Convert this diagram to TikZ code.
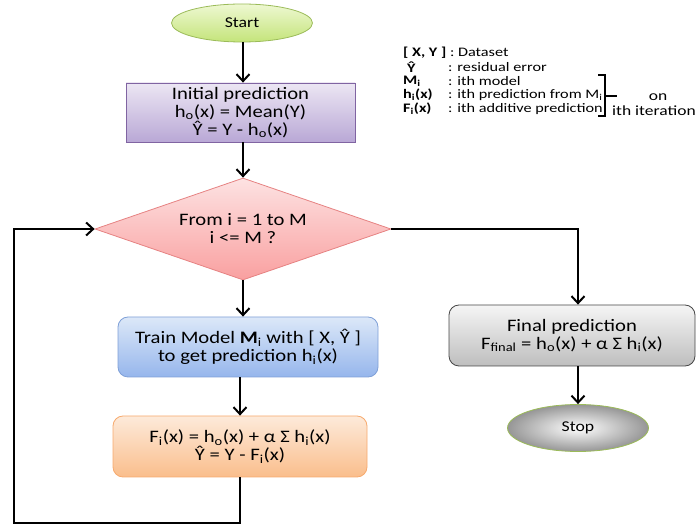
\documentclass[tikz,border=0pt]{standalone}
\usepackage{fontspec}
\setmainfont{Carlito}
\newfontfamily\boxfont[FakeStretch=1.18]{Carlito}
\newfontfamily\legfont[FakeStretch=1.25]{Carlito}
\usetikzlibrary{shapes.geometric,arrows.meta,calc}
\tikzset{
  base/.style={draw, inner sep=0pt, align=center, font=\boxfont\fontsize{17.5}{18}\selectfont, line width=0.8pt},
  termnode/.style={base, ellipse, font=\boxfont\fontsize{15}{18}\selectfont},
  procbox/.style={base, rectangle},
  roundbox/.style={base, rectangle, rounded corners=10pt},
  decbox/.style={base, diamond},
  arr/.style={line width=2.4pt, -{Straight Barb[length=7pt,width=13pt,line width=2pt]}},
  leg/.style={anchor=west, inner sep=0pt, font=\legfont\fontsize{13}{12}\selectfont},
}
\begin{document}
\begin{tikzpicture}[x=1pt,y=-1pt]
\useasboundingbox (0,0) rectangle (697,526);
% nodes
\node[termnode, minimum width=141pt, minimum height=38pt, top color={rgb,255:red,238;green,248;blue,210}, bottom color={rgb,255:red,196;green,228;blue,122}, draw={rgb,255:red,155;green,187;blue,89}] (start) at (242,23) {Start};
\node[procbox, minimum width=229pt, minimum height=59pt, top color={rgb,255:red,236;green,230;blue,243}, bottom color={rgb,255:red,185;green,168;blue,214}, draw={rgb,255:red,128;green,100;blue,162}] (init) at (240.5,112.5) {Initial prediction\\h\textsubscript{o}(x) = Mean(Y)\\Ŷ = Y - h\textsubscript{o}(x)};
\node[decbox, aspect=2.9, minimum width=296pt, minimum height=102pt, top color={rgb,255:red,253;green,226;blue,226}, bottom color={rgb,255:red,249;green,160;blue,160}, draw={rgb,255:red,230;green,130;blue,130}] (dec) at (243,229) {From i = 1 to M\\i <= M ?};
\node[roundbox, minimum width=260pt, minimum height=60pt, top color={rgb,255:red,220;green,232;blue,248}, bottom color={rgb,255:red,150;green,182;blue,236}, draw={rgb,255:red,127;green,160;blue,215}] (train) at (248,347) {Train Model \textbf{M}\textsubscript{i} with [ X, Ŷ ]\\to get prediction h\textsubscript{i}(x)};
\node[roundbox, minimum width=254pt, minimum height=61pt, top color={rgb,255:red,253;green,234;blue,218}, bottom color={rgb,255:red,250;green,190;blue,140}, draw={rgb,255:red,247;green,170;blue,110}] (upd) at (240,446.5) {F\textsubscript{i}(x) = h\textsubscript{o}(x) + α Σ h\textsubscript{i}(x)\\Ŷ = Y - F\textsubscript{i}(x)};
\node[roundbox, minimum width=246pt, minimum height=61pt, top color={rgb,255:red,245;green,245;blue,245}, bottom color={rgb,255:red,190;green,190;blue,190}, draw={rgb,255:red,70;green,70;blue,70}] (final) at (572,335.5) {Final prediction\\F\textsubscript{final} = h\textsubscript{o}(x) + α Σ h\textsubscript{i}(x)};
\node[termnode, minimum width=141pt, minimum height=47pt, inner color=white, outer color={rgb,255:red,150;green,150;blue,150}, draw={rgb,255:red,155;green,187;blue,89}] (stop) at (578,428) {Stop};
% connectors
\draw[arr] (start.south -| dec) -- (init.north -| dec);
\draw[arr] (init.south -| dec) -- (dec.north);
\draw[arr] (dec.south) -- (dec.south |- train.north);
\draw[arr] (train.south -| upd) -- (upd.north);
\coordinate (cb) at (14,523);
\draw[arr] (upd.south) |- (cb) |- (dec.west);
\draw[arr] (dec.east) -| (final.north -| stop);
\draw[arr] (final.south -| stop) -- (stop.north);
% legend
\node[leg] (l1) at (403,53) {\textbf{[ X, Y ]} : Dataset};
\node[leg] (k2) at (407,67) {\textbf{Ŷ}};
\node[leg] (d2) at (448,67) {: residual error};
\node[leg] (k3) at (403,81) {\textbf{M\textsubscript{i}}};
\node[leg] (d3) at (448,81) {: ith model};
\node[leg] (k4) at (403,95) {\textbf{h\textsubscript{i}(x)}};
\node[leg] (d4) at (448,95) {: ith prediction from M\textsubscript{i}};
\node[leg] (k5) at (403,109) {\textbf{F\textsubscript{i}(x)}};
\node[leg] (d5) at (448,109) {: ith additive prediction};
\draw[line width=1.3pt] (598,75) -- (605,75) -- (605,116) -- (598,116);
\draw[line width=1.3pt] (605,96) -- (617,96);
\node[leg, anchor=center, font=\legfont\fontsize{14}{12}\selectfont] (on) at (658,97) {on};
\node[leg, font=\legfont\fontsize{14}{12}\selectfont] (iter) at (612,111) {ith iteration};
\end{tikzpicture}
\end{document}
